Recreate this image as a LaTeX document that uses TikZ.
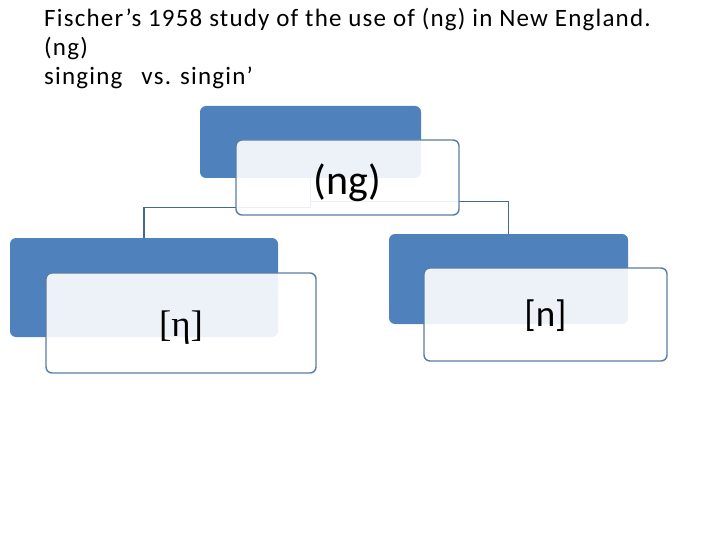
\documentclass[tikz,border=0pt]{standalone}
\usepackage{fontspec}
\setmainfont{Carlito}
\newfontfamily\titlefont[LetterSpace=4.8]{Carlito}
\newfontfamily\etafont{Liberation Serif}
\definecolor{accblue}{HTML}{4F81BD}
\definecolor{edgeblue}{HTML}{5A7DA3}
\definecolor{linkblue}{HTML}{46698F}
\begin{document}
\begin{tikzpicture}[x=1pt,y=-1pt,
  backbox/.style={fill=accblue,draw=none,rounded corners=6pt,inner sep=0pt},
  frontbox/.style={fill=white,fill opacity=0.9,draw=edgeblue,line width=1.4pt,rounded corners=6pt,inner sep=0pt},
  boxtext/.style={inner sep=0pt},
  link/.style={draw=linkblue,line width=1.3pt},
  title/.style={anchor=base west,inner sep=0pt,font=\titlefont\fontsize{25}{28}\selectfont}]
\useasboundingbox (0,0) rectangle (720,540);
\fill[white] (0,0) rectangle (720,540);
% title text
\node[title] (t1) at (44,27) {Fischer’s 1958 study of the use of (ng) in New England.};
\node[title] (t2) at (44,56) {(ng)};
\node[title] (t3) at (44,85) {singing\hspace{19pt}vs. singin’};
% back boxes
\node[backbox,minimum width=221pt,minimum height=72pt] (pblue) at (310.5,142) {};
\node[backbox,minimum width=268pt,minimum height=99pt] (lblue) at (144,287.5) {};
\node[backbox,minimum width=239pt,minimum height=90pt] (rblue) at (508.5,279) {};
% connectors
\draw[link] (pblue.south) -- ++(0,29) -| (lblue.north);
\draw[link] (pblue.south) -- ++(0,23) -| (rblue.north);
% front boxes
\node[frontbox,minimum width=223pt,minimum height=75pt] (pwhite) at (347.5,177.5) {};
\node[frontbox,minimum width=270pt,minimum height=100pt] (lwhite) at (181,323) {};
\node[frontbox,minimum width=243pt,minimum height=93pt] (rwhite) at (545.5,314.5) {};
% box texts
\node[boxtext,font=\fontsize{42}{46}\selectfont] (ptext) at ([yshift=-5pt]pwhite.center) {(ng)};
\node[boxtext,font=\etafont\fontsize{37}{40}\selectfont] (ltext) at ([yshift=-5pt]lwhite.center) {[η]};
\node[boxtext,font=\fontsize{37}{40}\selectfont] (rtext) at ([yshift=-1pt]rwhite.center) {[n]};
\end{tikzpicture}
\end{document}
